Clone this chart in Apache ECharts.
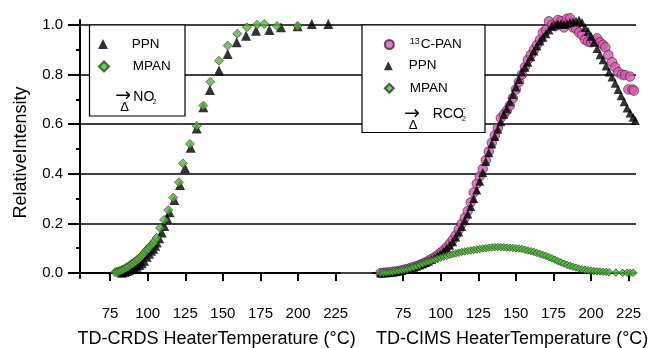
<!DOCTYPE html>
<html>
<head>
<meta charset="utf-8">
<script src="https://cdn.jsdelivr.net/npm/echarts@6/dist/echarts.min.js"></script>
<style>
  html, body { margin: 0; padding: 0; background: #fff; }
  #chart { width: 656px; height: 348px; }
</style>
</head>
<body>
<div id="chart"></div>
<script>
// TD-CRDS (left panel)
const crdsPpnT = [82.7, 84.5, 86.0, 87.5, 89.4, 91.0, 92.7, 94.5, 96.0, 97.5, 99.3, 100.9, 102.3, 103.7, 105.0, 106.0, 107.6, 109.3, 111.0, 113.0, 114.5, 117.7, 121.5, 124.8, 128.6, 132.6, 137.0, 141.4, 147.4, 153.2, 159.2, 165.4, 172.0, 180.9, 188.6, 199.7, 209.1, 220.1];
const crdsPpnV = [0.001, 0.004, 0.008, 0.011, 0.015, 0.02, 0.025, 0.032, 0.039, 0.05, 0.066, 0.078, 0.09, 0.098, 0.11, 0.123, 0.14, 0.163, 0.19, 0.22, 0.245, 0.294, 0.355, 0.422, 0.505, 0.583, 0.668, 0.738, 0.816, 0.883, 0.93, 0.957, 0.977, 0.98, 0.991, 0.995, 1.004, 1.004];
const crdsMpanT = [78.3, 79.4, 80.5, 81.6, 82.7, 83.8, 85.0, 86.0, 87.1, 88.2, 89.3, 90.4, 91.6, 92.7, 93.8, 94.9, 96.0, 97.1, 98.2, 99.3, 100.4, 101.5, 102.7, 103.7, 104.8, 106.0, 108.2, 110.9, 113.7, 117.0, 120.8, 123.5, 128.1, 132.6, 137.0, 141.7, 147.4, 153.2, 159.6, 166.0, 172.7, 177.5, 186.0, 199.7];
const crdsMpanV = [0.003, 0.005, 0.007, 0.009, 0.012, 0.015, 0.019, 0.023, 0.026, 0.032, 0.036, 0.039, 0.046, 0.052, 0.056, 0.063, 0.069, 0.076, 0.085, 0.093, 0.097, 0.108, 0.114, 0.12, 0.13, 0.142, 0.182, 0.214, 0.254, 0.304, 0.366, 0.442, 0.52, 0.593, 0.675, 0.771, 0.856, 0.917, 0.965, 0.991, 1.001, 1.004, 0.996, 0.996];

// TD-CIMS (right panel)
const cimsPanT = [60, 62, 64, 66, 68, 70, 72, 74, 76, 78, 80, 82, 84, 86, 88, 90, 92, 94, 96, 98, 100, 102, 104, 106, 108, 110, 112, 114, 116, 118, 120, 122, 124, 126, 128, 130, 132, 134, 136, 138, 140, 142, 144, 146, 148, 150, 152, 154, 156, 158, 160, 162, 164, 166, 168, 170, 172, 174, 176, 178, 180, 182, 184, 186, 188, 190, 192, 194, 196, 198, 200, 202, 204, 206, 208, 209.5, 211.5, 214, 216, 218, 220.5, 222.6, 224.8, 225.9, 227.5, 228.5];
const cimsPanV = [0.0, 0.001, 0.002, 0.003, 0.005, 0.006, 0.008, 0.011, 0.014, 0.017, 0.02, 0.024, 0.028, 0.033, 0.038, 0.043, 0.05, 0.057, 0.064, 0.072, 0.082, 0.092, 0.104, 0.118, 0.134, 0.152, 0.175, 0.198, 0.222, 0.25, 0.285, 0.325, 0.36, 0.39, 0.42, 0.455, 0.49, 0.525, 0.555, 0.585, 0.625, 0.64, 0.655, 0.675, 0.705, 0.74, 0.77, 0.8, 0.83, 0.86, 0.88, 0.9, 0.92, 0.94, 0.97, 0.98, 1.015, 1.0, 0.995, 1.02, 1.015, 0.99, 1.025, 1.027, 0.99, 0.985, 0.97, 0.96, 0.94, 0.933, 0.93, 0.935, 0.946, 0.93, 0.92, 0.91, 0.879, 0.85, 0.83, 0.81, 0.8, 0.798, 0.74, 0.792, 0.74, 0.735];
const cimsPpnT = [60, 62, 64, 66, 68, 70, 72, 74, 76, 78, 80, 82, 84, 86, 88, 90, 92, 94, 96, 98, 100, 102, 104, 106, 108, 110, 112, 114, 116, 118, 120, 122, 124, 126, 128, 130, 132, 134, 136, 138, 140, 142, 144, 146, 148, 150, 152, 154, 156, 158, 160, 162, 164, 166, 168, 170, 172, 174, 176, 178, 180, 182, 184, 186, 188, 190, 192, 194, 196, 198, 200, 202, 204, 206, 208, 210, 212, 214, 216, 218, 220, 222, 224, 226, 228, 229.5];
const cimsPpnV = [0.0, 0.001, 0.002, 0.003, 0.004, 0.006, 0.008, 0.01, 0.013, 0.016, 0.019, 0.023, 0.027, 0.032, 0.037, 0.042, 0.048, 0.055, 0.062, 0.07, 0.078, 0.088, 0.1, 0.112, 0.126, 0.145, 0.165, 0.188, 0.212, 0.238, 0.268, 0.3, 0.335, 0.37, 0.405, 0.45, 0.485, 0.52, 0.55, 0.58, 0.61, 0.64, 0.662, 0.69, 0.72, 0.75, 0.78, 0.81, 0.83, 0.85, 0.872, 0.895, 0.915, 0.935, 0.95, 0.965, 0.98, 0.995, 1.0, 1.005, 1.005, 1.002, 1.005, 1.01, 1.012, 1.015, 1.02, 1.01, 0.99, 0.975, 0.955, 0.93, 0.905, 0.88, 0.86, 0.835, 0.81, 0.79, 0.765, 0.74, 0.715, 0.69, 0.665, 0.645, 0.628, 0.615];
const cimsMpanT = [60, 62, 64, 66, 68, 70, 72, 74, 76, 78, 80, 82, 84, 86, 88, 90, 92, 94, 96, 98, 100, 102, 104, 106, 108, 110, 112, 114, 116, 118, 120, 122, 124, 126, 128, 130, 132, 134, 136, 138, 140, 142, 144, 146, 148, 150, 152, 154, 156, 158, 160, 162, 164, 166, 168, 170, 172, 174, 176, 178, 180, 182, 184, 186, 188, 190, 192, 194, 196, 198, 200, 202, 204, 206, 208, 210, 212, 216.5, 221, 224, 226, 228];
const cimsMpanV = [0.0, 0.001, 0.002, 0.003, 0.005, 0.007, 0.009, 0.011, 0.013, 0.016, 0.019, 0.023, 0.027, 0.032, 0.037, 0.042, 0.046, 0.05, 0.054, 0.058, 0.062, 0.066, 0.069, 0.073, 0.076, 0.079, 0.082, 0.085, 0.087, 0.089, 0.091, 0.093, 0.095, 0.097, 0.099, 0.1, 0.102, 0.103, 0.104, 0.105, 0.104, 0.104, 0.103, 0.102, 0.101, 0.1, 0.099, 0.097, 0.094, 0.091, 0.088, 0.085, 0.081, 0.077, 0.073, 0.069, 0.064, 0.059, 0.054, 0.048, 0.043, 0.038, 0.033, 0.029, 0.025, 0.022, 0.018, 0.015, 0.013, 0.011, 0.01, 0.008, 0.007, 0.006, 0.005, 0.004, 0.003, 0.002, 0.001, 0.001, 0.001, 0.001];

const xTicks = [75, 100, 125, 150, 175, 200, 225];

const FONT = "Liberation Sans, Arial, Helvetica, sans-serif";
const PINK = "#d25aab";
const GREEN = "#58b342";

const pairs = (xs, ys) => xs.map((x, i) => [x, ys[i]]);

const xAxisBase = (name, min, max, pad) => ({
  type: "value",
  min: min,
  max: max,
  offset: 4,
  name: name,
  nameLocation: "middle",
  nameGap: 48,
  nameTextStyle: { fontFamily: FONT, fontSize: 18, color: "#000", padding: [0, 0, 0, pad] },
  axisLine: { show: true, lineStyle: { color: "#000", width: 2 } },
  axisTick: { show: true, length: 8, customValues: xTicks, lineStyle: { color: "#000", width: 2 } },
  axisLabel: { show: true, customValues: xTicks, margin: 24, fontFamily: FONT, fontSize: 15, color: "#000" },
  splitLine: { show: false },
});

const legendItem = (name, left, top, size, pad) => ({
  data: [name],
  orient: "vertical",
  left: left,
  top: top,
  padding: 0,
  itemWidth: size,
  itemHeight: size,
  selectedMode: false,
  z: 10,
  formatter: (n) => (n === "13C-PAN" ? "{sup|13}{t|C-PAN}" : n),
  textStyle: {
    fontFamily: FONT,
    fontSize: 13.5,
    lineHeight: 14,
    color: "#000",
    padding: [0, 0, 0, pad],
    rich: {
      sup: { fontFamily: FONT, fontSize: 9, color: "#000", padding: [0, 1, 6, 0] },
      t: { fontFamily: FONT, fontSize: 13.5, color: "#000" },
    },
  },
});

const chart = echarts.init(document.getElementById("chart"), null, { renderer: "canvas" });

chart.setOption({
  backgroundColor: "#fff",
  animation: false,
  textStyle: { fontFamily: FONT },
  grid: [
    { left: 80, top: 25, width: 556, height: 248, outerBoundsMode: "none", containLabel: false },
    { left: 80, top: 20, width: 260.2, height: 258, outerBoundsMode: "none", containLabel: false },
    { left: 373, top: 20, width: 262.4, height: 258, outerBoundsMode: "none", containLabel: false },
  ],
  xAxis: [
    { type: "value", gridIndex: 0, min: 0, max: 1, show: false },
    Object.assign({ gridIndex: 1 }, xAxisBase("TD-CRDS HeaterTemperature (°C)", 55, 228, 13)),
    Object.assign({ gridIndex: 2 }, xAxisBase("TD-CIMS HeaterTemperature (°C)", 55, 229.5, 16)),
  ],
  yAxis: [
    {
      type: "value",
      gridIndex: 0,
      min: 0,
      max: 1,
      interval: 0.2,
      name: "RelativeIntensity",
      nameLocation: "middle",
      nameGap: 50,
      nameTextStyle: { fontFamily: FONT, fontSize: 18, color: "#000", padding: [0, 7, 0, 0] },
      axisLine: { show: false },
      axisTick: { show: true, length: 12, lineStyle: { color: "#000", width: 2 } },
      minorTick: { show: true, splitNumber: 2, length: 4, lineStyle: { color: "#000", width: 2 } },
      axisLabel: { margin: 17, fontFamily: FONT, fontSize: 15, color: "#000", formatter: (v) => v.toFixed(1) },
      splitLine: { show: true, lineStyle: { color: "#000", width: 1.5 } },
    },
    {
      type: "value",
      gridIndex: 1,
      min: -0.02,
      max: 1.02,
      axisLine: { show: true, lineStyle: { color: "#000", width: 2 } },
      axisTick: { show: false },
      axisLabel: { show: false },
      splitLine: { show: false },
    },
    { type: "value", gridIndex: 2, min: -0.02, max: 1.02, show: false, splitLine: { show: false } },
  ],
  legend: [
    legendItem("PPN", 98, 37, 10, 18.7),
    legendItem("MPAN", 98, 59.5, 10, 18.7),
    legendItem("13C-PAN", 383.8, 37, 9, 11),
    legendItem("PPN", 383.8, 58.7, 9, 11),
    legendItem("MPAN", 383.8, 81.3, 9, 11),
  ],
  graphic: [
    { type: "rect", z: 5, shape: { x: 89.5, y: 25, width: 95.5, height: 91 }, style: { fill: "#fff", stroke: "#000", lineWidth: 1.2 } },
    { type: "rect", z: 5, shape: { x: 362, y: 25, width: 123, height: 107.5 }, style: { fill: "#fff", stroke: "#000", lineWidth: 1.2 } },
    { type: "text", z: 6, x: 123.3, y: 96, style: { text: "→", fontFamily: "DejaVu Sans", fontSize: 19, fill: "#000", align: "center", verticalAlign: "middle" } },
    { type: "text", z: 6, x: 124.5, y: 107.5, style: { text: "Δ", fontFamily: FONT, fontSize: 13, fill: "#000", align: "center", verticalAlign: "middle" } },
    { type: "text", z: 6, x: 133.3, y: 97, style: { text: "NO", fontFamily: FONT, fontSize: 14, fill: "#000", align: "left", verticalAlign: "middle" } },
    { type: "text", z: 6, x: 152.7, y: 102, style: { text: "2", fontFamily: FONT, fontSize: 7, fill: "#000", align: "left", verticalAlign: "middle" } },
    { type: "text", z: 6, x: 412, y: 114.3, style: { text: "→", fontFamily: "DejaVu Sans", fontSize: 19, fill: "#000", align: "center", verticalAlign: "middle" } },
    { type: "text", z: 6, x: 413, y: 125, style: { text: "Δ", fontFamily: FONT, fontSize: 13, fill: "#000", align: "center", verticalAlign: "middle" } },
    { type: "text", z: 6, x: 432.7, y: 114, style: { text: "RCO", fontFamily: FONT, fontSize: 14, fill: "#000", align: "left", verticalAlign: "middle" } },
    { type: "text", z: 6, x: 462, y: 119, style: { text: "2", fontFamily: FONT, fontSize: 7, fill: "#000", align: "left", verticalAlign: "middle" } },
    { type: "text", z: 6, x: 462.5, y: 109, style: { text: "-", fontFamily: FONT, fontSize: 9, fill: "#000", align: "left", verticalAlign: "middle" } },
  ],
  series: [
    {
      name: "PPN", type: "scatter", xAxisIndex: 1, yAxisIndex: 1, clip: false,
      symbol: "triangle", symbolSize: 10,
      itemStyle: { color: "#000" },
      data: pairs(crdsPpnT, crdsPpnV),
    },
    {
      name: "MPAN", type: "scatter", xAxisIndex: 1, yAxisIndex: 1, clip: false,
      symbol: "diamond", symbolSize: 9,
      itemStyle: { color: GREEN, borderColor: "#1f4a14", borderWidth: 0.8 },
      data: pairs(crdsMpanT, crdsMpanV),
    },
    {
      name: "13C-PAN", type: "scatter", xAxisIndex: 2, yAxisIndex: 2, clip: false,
      symbol: "circle", symbolSize: 9.5,
      itemStyle: { color: PINK, borderColor: "#4a1a3c", borderWidth: 0.8 },
      data: pairs(cimsPanT, cimsPanV),
    },
    {
      name: "PPN", type: "scatter", xAxisIndex: 2, yAxisIndex: 2, clip: false,
      symbol: "triangle", symbolSize: 9,
      itemStyle: { color: "#000" },
      data: pairs(cimsPpnT, cimsPpnV),
    },
    {
      name: "MPAN", type: "scatter", xAxisIndex: 2, yAxisIndex: 2, clip: false,
      symbol: "diamond", symbolSize: 7.5,
      itemStyle: { color: GREEN, borderColor: "#22561a", borderWidth: 1 },
      data: pairs(cimsMpanT, cimsMpanV),
    },
  ],
});
</script>
</body>
</html>
